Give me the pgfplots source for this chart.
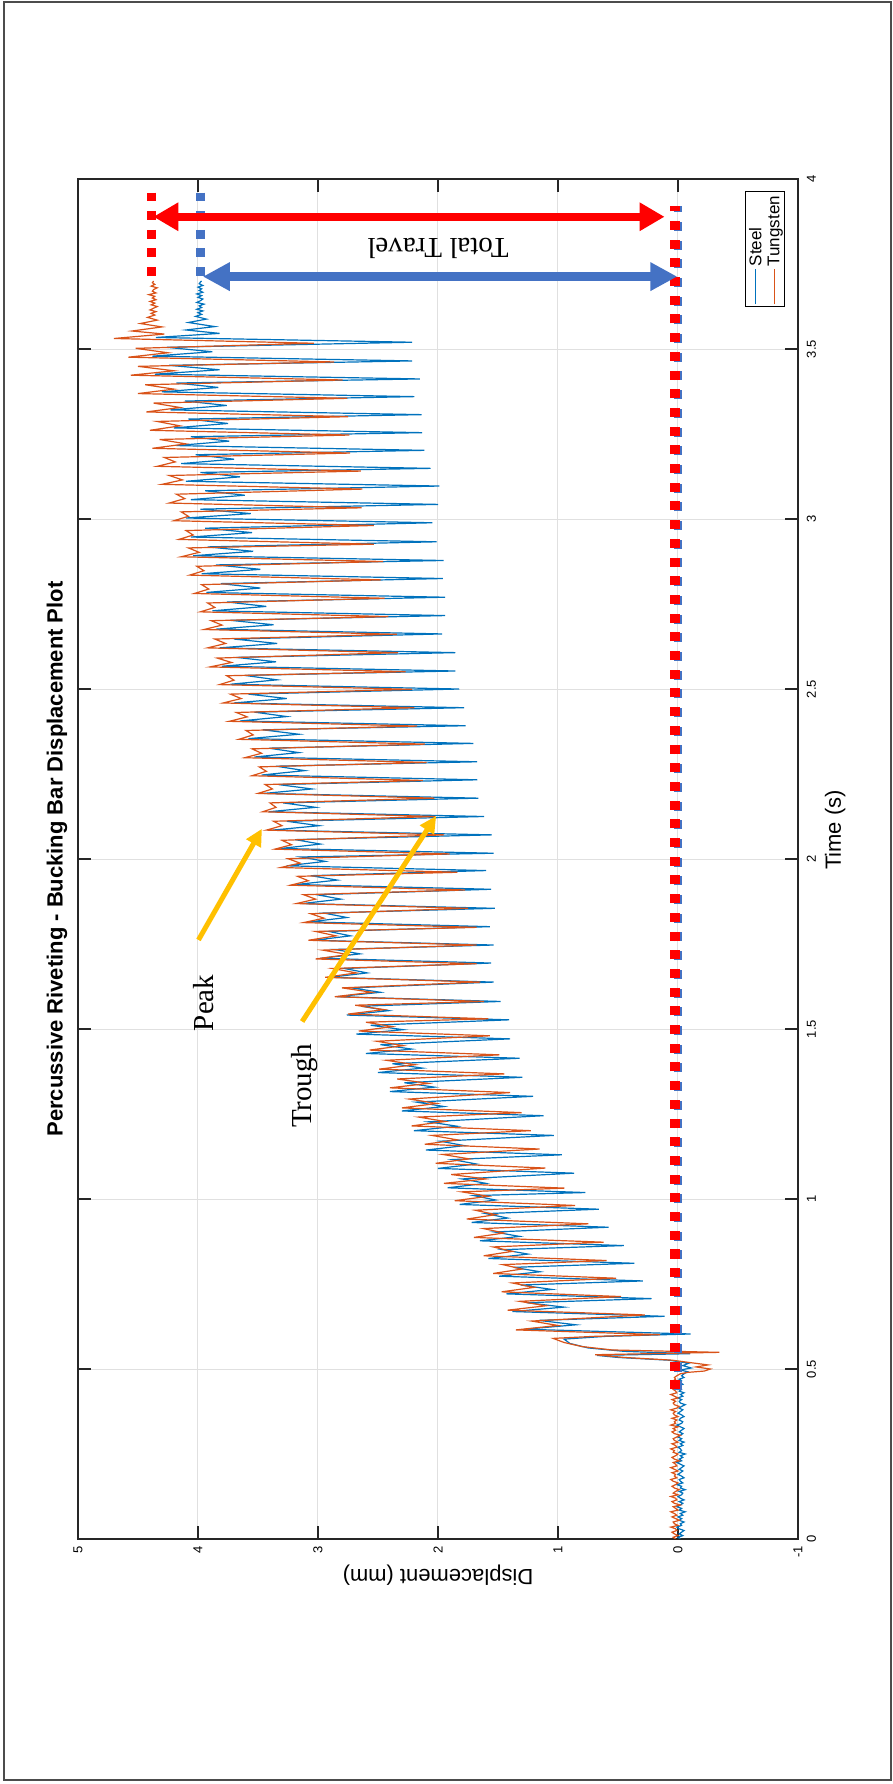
\documentclass[border=0pt]{standalone}
\usepackage{pgfplots}
\pgfplotsset{compat=1.18}
\usepackage{fontspec}
\setmainfont{Liberation Sans}
\newfontfamily\annfont{Liberation Serif}
\usetikzlibrary{arrows.meta}
\definecolor{steel}{RGB}{0,114,189}
\definecolor{tung}{RGB}{217,83,25}
\definecolor{annblue}{RGB}{68,114,196}
\definecolor{annyel}{RGB}{255,192,0}
\begin{document}
\begin{tikzpicture}[rotate=90, transform shape]
\useasboundingbox (0bp,0bp) rectangle (1784bp,893bp);
\draw[black!70, line width=1.6bp] (4bp,2bp) rectangle (1782bp,889bp);
\begin{axis}[
  at={(245bp,95bp)}, anchor=south west,
  scale only axis, width=1360bp, height=720bp,
  xmin=0, xmax=4, ymin=-1, ymax=5,
  xtick={0,0.5,...,4}, ytick={-1,0,...,5},
  /pgf/number format/assume math mode=true,
  ticklabel style={font=\fontsize{13bp}{15bp}\selectfont, inner sep=0pt},
  xticklabel style={yshift=-8.7bp},
  yticklabel style={xshift=-7bp},
  tick align=inside, major tick length=13bp,
  every tick/.style={line width=1.2bp, black!85},
  axis line style={line width=1.2bp, black!85},
  grid=major, major grid style={line width=1bp, black!12},
  title={\bfseries Percussive Riveting - Bucking Bar Displacement Plot},
  title style={at={(axis description cs:0.5,1.0132)}, anchor=base, inner sep=0pt, font=\fontsize{22bp}{26bp}\selectfont},
  xlabel={Time (s)},
  every axis x label/.style={at={(axis description cs:0.5213,-0.0597)}, anchor=base, inner sep=0pt, font=\fontsize{22bp}{26bp}\selectfont},
  ylabel={Displacement (mm)},
  every axis y label/.style={at={(axis description cs:-0.0225,0.5)}, rotate=90, anchor=base, inner sep=0pt, font=\fontsize{22bp}{26bp}\selectfont},
  legend style={at={(axis description cs:0.99118,0.01806)}, anchor=south east, draw=black, line width=1bp,
    font=\fontsize{17bp}{20bp}\selectfont, inner xsep=2bp, inner ysep=1bp, nodes={inner sep=2.5bp}, row sep=0bp},
  legend cell align=left,
  legend image code/.code={\draw[#1, line width=1.2bp] (0bp,0bp) -- (35bp,0bp);},
]
% Steel
\addplot[steel, line width=1.2bp] coordinates {
(0.000,-0.02)(0.005,0.00)(0.010,-0.04)(0.015,-0.01)(0.020,-0.03)(0.025,-0.05)(0.030,-0.01)(0.035,0.01)(0.040,-0.03)(0.045,-0.02)
(0.050,-0.05)(0.055,-0.01)(0.060,-0.03)(0.065,0.00)(0.070,-0.04)(0.075,-0.02)(0.080,-0.06)(0.085,-0.01)(0.090,-0.03)(0.095,0.01)
(0.100,-0.02)(0.105,-0.04)(0.110,-0.01)(0.115,-0.05)(0.120,-0.02)(0.125,0.00)(0.130,-0.03)(0.135,-0.04)(0.140,-0.01)(0.145,-0.06)
(0.150,-0.02)(0.155,-0.03)(0.160,0.01)(0.165,-0.04)(0.170,-0.02)(0.175,-0.01)(0.180,-0.05)(0.185,-0.03)(0.190,0.00)(0.195,-0.02)
(0.200,-0.04)(0.205,-0.01)(0.210,-0.03)(0.215,-0.05)(0.220,-0.02)(0.225,0.01)(0.230,-0.03)(0.235,-0.01)(0.240,-0.04)(0.245,-0.02)
(0.250,-0.06)(0.255,-0.01)(0.260,-0.03)(0.265,-0.02)(0.270,0.00)(0.275,-0.04)(0.280,-0.02)(0.285,-0.05)(0.290,-0.01)(0.295,-0.03)
(0.300,0.00)(0.305,-0.02)(0.310,-0.04)(0.315,-0.01)(0.320,-0.03)(0.325,-0.05)(0.330,-0.02)(0.335,0.01)(0.340,-0.03)(0.345,-0.04)
(0.350,-0.01)(0.355,-0.02)(0.360,-0.05)(0.365,-0.03)(0.370,0.00)(0.375,-0.02)(0.380,-0.04)(0.385,-0.01)(0.390,-0.03)(0.395,-0.06)
(0.400,-0.02)(0.405,-0.01)(0.410,-0.03)(0.415,0.00)(0.420,-0.04)(0.425,-0.02)(0.430,-0.05)(0.435,-0.01)(0.440,-0.03)(0.445,-0.02)
(0.450,0.00)(0.455,-0.04)(0.460,-0.02)(0.465,-0.03)(0.470,-0.01)(0.475,-0.05)(0.480,-0.03)
(0.486,-0.05)(0.492,-0.08)(0.497,-0.02)(0.503,-0.11)(0.510,-0.04)(0.517,-0.09)(0.526,0.08)(0.534,0.50)(0.540,0.675)(0.545,-0.10)
(0.552,0.45)(0.562,0.75)(0.575,0.90)(0.588,0.95)(0.596,0.60)
(0.603,-0.106)(0.617,1.28)(0.630,0.85)(0.643,1.16)
(0.655,0.111)(0.669,1.38)(0.682,0.95)(0.695,1.26)
(0.707,0.219)(0.721,1.43)(0.734,1.05)(0.747,1.31)
(0.759,0.292)(0.773,1.49)(0.786,1.15)(0.799,1.37)
(0.811,0.363)(0.825,1.58)(0.838,1.25)(0.851,1.46)
(0.863,0.452)(0.877,1.65)(0.890,1.32)(0.903,1.53)
(0.917,0.579)(0.931,1.72)(0.944,1.42)(0.957,1.60)
(0.970,0.659)(0.984,1.82)(0.997,1.52)(1.010,1.70)
(1.019,0.771)(1.033,1.92)(1.046,1.60)(1.059,1.80)
(1.076,0.866)(1.090,2.00)(1.103,1.68)(1.116,1.88)
(1.130,0.968)(1.144,2.10)(1.157,1.78)(1.170,1.98)
(1.187,1.035)(1.201,2.20)(1.214,1.84)(1.227,2.08)
(1.245,1.121)(1.259,2.30)(1.272,1.95)(1.285,2.18)
(1.302,1.207)(1.316,2.40)(1.329,2.03)(1.342,2.28)
(1.358,1.297)(1.372,2.50)(1.385,2.13)(1.398,2.38)
(1.414,1.319)(1.428,2.60)(1.441,2.22)(1.454,2.48)
(1.471,1.399)(1.485,2.68)(1.498,2.29)(1.511,2.56)
(1.527,1.408)(1.541,2.76)(1.554,2.41)(1.567,2.64)
(1.581,1.478)(1.595,2.84)(1.608,2.48)(1.621,2.72)
(1.638,1.536)(1.652,2.90)(1.665,2.59)(1.678,2.78)
(1.694,1.558)(1.708,2.98)(1.721,2.65)(1.734,2.86)
(1.747,1.536)(1.761,3.03)(1.774,2.73)(1.787,2.91)
(1.801,1.568)(1.815,3.07)(1.828,2.76)(1.841,2.95)
(1.855,1.526)(1.869,3.13)(1.882,2.81)(1.895,3.01)
(1.911,1.558)(1.925,3.18)(1.938,2.84)(1.951,3.06)
(1.966,1.600)(1.980,3.26)(1.993,2.94)(2.006,3.14)
(2.017,1.536)(2.031,3.31)(2.044,2.98)(2.057,3.19)
(2.071,1.552)(2.085,3.38)(2.098,2.99)(2.111,3.26)
(2.125,1.616)(2.139,3.41)(2.152,3.02)(2.165,3.29)
(2.179,1.663)(2.193,3.45)(2.206,3.05)(2.219,3.33)
(2.233,1.673)(2.247,3.47)(2.260,3.11)(2.273,3.35)
(2.286,1.673)(2.300,3.53)(2.313,3.16)(2.326,3.41)
(2.340,1.705)(2.354,3.58)(2.367,3.16)(2.380,3.46)
(2.392,1.769)(2.406,3.65)(2.419,3.26)(2.432,3.53)
(2.445,1.782)(2.459,3.70)(2.472,3.26)(2.485,3.58)
(2.500,1.823)(2.514,3.73)(2.527,3.34)(2.540,3.61)
(2.553,1.855)(2.567,3.80)(2.580,3.35)(2.593,3.68)
(2.607,1.855)(2.621,3.82)(2.634,3.34)(2.647,3.70)
(2.662,1.966)(2.676,3.85)(2.689,3.37)(2.702,3.73)
(2.716,1.941)(2.730,3.88)(2.743,3.43)(2.756,3.76)
(2.770,1.941)(2.784,3.93)(2.797,3.48)(2.810,3.81)
(2.825,1.960)(2.839,3.97)(2.852,3.48)(2.865,3.85)
(2.878,1.954)(2.892,4.04)(2.905,3.54)(2.918,3.92)
(2.933,2.011)(2.947,4.06)(2.960,3.55)(2.973,3.94)
(2.989,2.046)(3.003,4.10)(3.016,3.56)(3.029,3.98)
(3.043,1.998)(3.057,4.06)(3.070,3.61)(3.083,3.94)
(3.097,1.989)(3.111,4.10)(3.124,3.65)(3.137,3.98)
(3.149,2.062)(3.163,4.14)(3.176,3.70)(3.189,4.02)
(3.202,2.113)(3.216,4.18)(3.229,3.74)(3.242,4.06)
(3.254,2.132)(3.268,4.20)(3.281,3.75)(3.294,4.08)
(3.307,2.136)(3.321,4.23)(3.334,3.76)(3.347,4.11)
(3.360,2.196)(3.374,4.30)(3.387,3.83)(3.400,4.18)
(3.412,2.151)(3.426,4.36)(3.439,3.82)(3.452,4.24)
(3.465,2.215)(3.479,4.38)(3.492,3.88)(3.505,4.26)
(3.520,2.215)
(3.534,4.35)(3.546,3.82)(3.556,4.10)(3.566,3.86)(3.578,4.08)(3.588,3.93)(3.596,4.02)
(3.602,3.97)(3.607,4.00)(3.612,3.96)(3.617,4.01)(3.622,3.97)(3.627,3.99)(3.632,3.95)(3.637,4.01)(3.642,3.98)(3.647,3.96)
(3.652,4.00)(3.657,3.97)(3.662,4.01)(3.667,3.96)(3.672,3.99)(3.677,3.97)(3.682,4.00)(3.687,3.96)(3.692,3.99)(3.697,3.98)(3.700,3.97)
};
\addlegendentry{Steel}
% Tungsten
\addplot[tung, line width=1.2bp] coordinates {
(0.000,0.02)(0.005,0.04)(0.010,0.00)(0.015,0.03)(0.020,0.05)(0.025,0.01)(0.030,0.02)(0.035,0.06)(0.040,0.00)(0.045,0.03)
(0.050,0.04)(0.055,-0.01)(0.060,0.02)(0.065,0.05)(0.070,0.01)(0.075,0.03)(0.080,0.06)(0.085,0.00)(0.090,0.02)(0.095,0.04)
(0.100,-0.02)(0.105,0.03)(0.110,0.05)(0.115,0.01)(0.120,0.02)(0.125,0.06)(0.130,0.00)(0.135,0.04)(0.140,0.02)(0.145,-0.01)
(0.150,0.03)(0.155,0.05)(0.160,0.02)(0.165,0.00)(0.170,0.04)(0.175,0.06)(0.180,0.01)(0.185,0.03)(0.190,0.02)(0.195,0.05)
(0.200,0.00)(0.205,0.03)(0.210,0.06)(0.215,0.01)(0.220,0.02)(0.225,0.04)(0.230,-0.01)(0.235,0.03)(0.240,0.05)(0.245,0.02)
(0.250,0.00)(0.255,0.04)(0.260,0.03)(0.265,0.06)(0.270,0.01)(0.275,0.02)(0.280,0.05)(0.285,0.00)(0.290,0.03)(0.295,0.04)
(0.300,0.01)(0.305,-0.02)(0.310,0.03)(0.315,0.05)(0.320,0.02)(0.325,0.04)(0.330,0.00)(0.335,0.06)(0.340,0.02)(0.345,0.03)
(0.350,0.01)(0.355,0.05)(0.360,0.00)(0.365,0.03)(0.370,0.04)(0.375,0.02)(0.380,0.06)(0.385,0.01)(0.390,-0.01)(0.395,0.03)
(0.400,0.04)(0.405,0.02)(0.410,0.05)(0.415,0.00)(0.420,0.03)(0.425,0.06)(0.430,0.01)(0.435,0.02)(0.440,0.04)(0.445,0.00)
(0.450,0.03)(0.455,0.05)(0.460,0.01)(0.465,0.04)(0.470,0.02)(0.475,0.03)(0.480,0.01)
(0.486,-0.02)(0.490,-0.08)(0.494,-0.22)(0.500,-0.27)(0.506,-0.15)(0.512,-0.25)(0.518,-0.12)(0.526,0.05)(0.534,0.45)(0.542,0.69)
(0.549,-0.345)(0.556,0.55)(0.566,0.80)(0.578,0.95)(0.590,1.04)(0.596,0.70)
(0.601,0.15)(0.615,1.35)(0.628,1.00)(0.641,1.22)
(0.659,0.276)(0.673,1.42)(0.686,1.10)(0.699,1.32)
(0.713,0.474)(0.727,1.47)(0.740,1.20)(0.753,1.38)
(0.767,0.515)(0.781,1.54)(0.794,1.30)(0.807,1.46)
(0.819,0.595)(0.833,1.62)(0.846,1.38)(0.859,1.54)
(0.873,0.621)(0.887,1.70)(0.900,1.45)(0.913,1.62)
(0.927,0.748)(0.941,1.76)(0.954,1.52)(0.967,1.69)
(0.981,0.857)(0.995,1.86)(1.008,1.58)(1.021,1.80)
(1.032,0.946)(1.046,1.95)(1.059,1.60)(1.072,1.89)
(1.091,1.105)(1.105,2.02)(1.118,1.74)(1.131,1.96)
(1.147,1.153)(1.161,2.11)(1.174,1.84)(1.187,2.05)
(1.201,1.227)(1.215,2.22)(1.228,1.94)(1.241,2.16)
(1.254,1.303)(1.268,2.30)(1.281,2.01)(1.294,2.24)
(1.313,1.399)(1.327,2.40)(1.340,2.08)(1.353,2.34)
(1.368,1.447)(1.382,2.49)(1.395,2.19)(1.408,2.43)
(1.424,1.488)(1.438,2.57)(1.451,2.29)(1.464,2.51)
(1.480,1.568)(1.494,2.66)(1.507,2.38)(1.520,2.60)
(1.530,1.580)(1.544,2.75)(1.557,2.45)(1.570,2.69)
(1.581,1.616)(1.595,2.86)(1.608,2.55)(1.621,2.80)
(1.638,1.648)(1.652,2.94)(1.665,2.68)(1.678,2.88)
(1.692,1.679)(1.706,3.02)(1.719,2.75)(1.732,2.96)
(1.747,1.679)(1.761,3.08)(1.774,2.85)(1.787,3.02)
(1.799,1.679)(1.813,3.12)(1.826,2.95)(1.839,3.06)
(1.855,1.750)(1.869,3.18)(1.882,3.02)(1.895,3.12)
(1.909,1.775)(1.923,3.23)(1.936,3.08)(1.949,3.17)
(1.961,1.839)(1.975,3.31)(1.988,3.15)(2.001,3.25)
(2.015,1.903)(2.029,3.36)(2.042,3.22)(2.055,3.30)
(2.071,1.950)(2.085,3.43)(2.098,3.30)(2.111,3.37)
(2.125,2.024)(2.139,3.46)(2.152,3.35)(2.165,3.40)
(2.179,2.030)(2.193,3.50)(2.206,3.38)(2.219,3.44)
(2.231,2.126)(2.245,3.55)(2.258,3.43)(2.271,3.49)
(2.284,2.094)(2.298,3.61)(2.311,3.47)(2.324,3.55)
(2.338,2.110)(2.352,3.66)(2.365,3.54)(2.378,3.60)
(2.391,2.174)(2.405,3.74)(2.418,3.59)(2.431,3.68)
(2.445,2.196)(2.459,3.79)(2.472,3.64)(2.485,3.73)
(2.499,2.215)(2.513,3.82)(2.526,3.70)(2.539,3.76)
(2.551,2.269)(2.565,3.90)(2.578,3.72)(2.591,3.84)
(2.607,2.333)(2.621,3.92)(2.634,3.77)(2.647,3.86)
(2.661,2.343)(2.675,3.95)(2.688,3.80)(2.701,3.89)
(2.713,2.413)(2.727,3.98)(2.740,3.86)(2.753,3.92)
(2.767,2.445)(2.781,4.03)(2.794,3.91)(2.807,3.97)
(2.821,2.477)(2.835,4.07)(2.848,3.95)(2.861,4.01)
(2.875,2.457)(2.889,4.14)(2.902,3.99)(2.915,4.08)
(2.926,2.534)(2.940,4.16)(2.953,4.04)(2.966,4.10)
(2.981,2.534)(2.995,4.20)(3.008,4.08)(3.021,4.14)
(3.033,2.636)(3.047,4.24)(3.060,4.11)(3.073,4.18)
(3.088,2.630)(3.102,4.30)(3.115,4.13)(3.128,4.24)
(3.141,2.642)(3.155,4.34)(3.168,4.19)(3.181,4.28)
(3.194,2.732)(3.208,4.38)(3.221,4.10)(3.234,4.32)
(3.247,2.738)(3.261,4.40)(3.274,4.15)(3.287,4.34)
(3.301,2.748)(3.315,4.43)(3.328,4.15)(3.341,4.37)
(3.355,2.757)(3.369,4.50)(3.382,4.20)(3.395,4.44)
(3.409,2.795)(3.423,4.56)(3.436,4.20)(3.449,4.50)
(3.462,2.866)(3.476,4.58)(3.489,4.25)(3.502,4.52)
(3.517,3.035)
(3.531,4.70)(3.544,4.28)(3.553,4.55)(3.565,4.30)(3.575,4.48)(3.585,4.34)(3.593,4.42)
(3.600,4.36)(3.605,4.39)(3.610,4.35)(3.615,4.40)(3.620,4.37)(3.625,4.34)(3.630,4.39)(3.635,4.36)(3.640,4.40)(3.645,4.35)
(3.650,4.38)(3.655,4.36)(3.660,4.41)(3.665,4.35)(3.670,4.38)(3.675,4.37)(3.680,4.34)(3.685,4.39)(3.690,4.36)(3.695,4.38)(3.700,4.37)
};
\addlegendentry{Tungsten}
% annotation dashed lines
\addplot[annblue, line width=8.8bp, dash pattern=on 9bp off 9.7bp, dash phase=9.35bp, forget plot] coordinates {(0.41,0) (3.92,0)};
\addplot[red, line width=9.6bp, dash pattern=on 9bp off 9.7bp, forget plot] coordinates {(0.44,0.025) (3.92,0.025)};
\addplot[red, line width=9bp, dash pattern=on 8.7bp off 9.9bp, forget plot] coordinates {(3.96,4.39) (3.712,4.39)};
\addplot[annblue, line width=9bp, dash pattern=on 8.7bp off 9.9bp, forget plot] coordinates {(3.96,3.98) (3.712,3.98)};
% arrows
\draw[red, line width=8.3bp, {Triangle[length=25bp,width=27bp]}-{Triangle[length=25bp,width=27bp]}] (axis cs:3.889,0.112) -- (axis cs:3.889,4.372);
\draw[annblue, line width=8.3bp, {Triangle[length=27bp,width=27bp]}-{Triangle[length=27bp,width=27bp]}] (axis cs:3.713,0.006) -- (axis cs:3.713,3.959);
\draw[annyel, line width=5bp, -{Triangle[length=17bp,width=16bp]}] (axis cs:1.762,3.996) -- (axis cs:2.089,3.467);
\draw[annyel, line width=5bp, -{Triangle[length=17bp,width=16bp]}] (axis cs:1.522,3.132) -- (axis cs:2.127,2.015);
% texts
\node[inner sep=0pt, font=\annfont\fontsize{29bp}{34bp}\selectfont] at (axis cs:1.577,3.952) {Peak};
\node[inner sep=0pt, font=\annfont\fontsize{29bp}{34bp}\selectfont] at (axis cs:1.333,3.115) {Trough};
\node[inner sep=0pt, rotate=90, font=\annfont\fontsize{29bp}{34bp}\selectfont] at (axis cs:3.795,1.999) {Total Travel};
\end{axis}
\end{tikzpicture}
\end{document}
